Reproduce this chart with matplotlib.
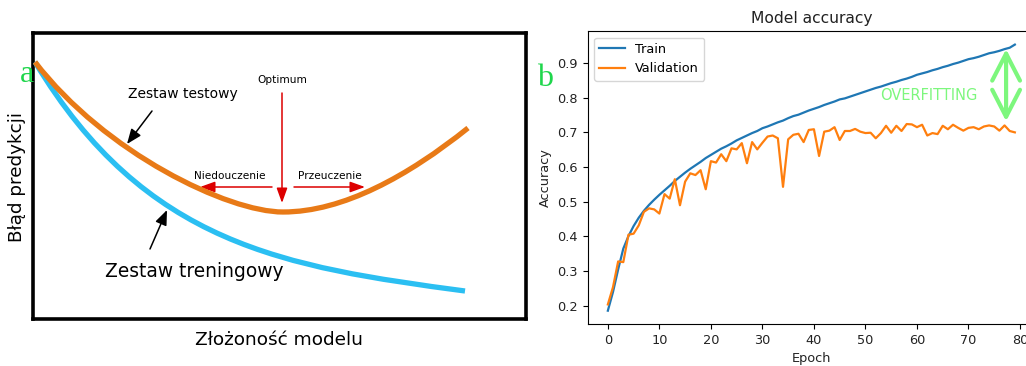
import numpy as np
import matplotlib
matplotlib.use("Agg")
import matplotlib.pyplot as plt
from matplotlib.path import Path
from matplotlib.patches import PathPatch

# ---------------------------------------------------------------- data
# Panel (a): schematic error curves as cubic Bezier control points
# (x = model complexity, y = prediction error, arbitrary units)
train_err_ctrl = [(2, 257), (112, 74), (252, 52), (432, 28)]
test_err_ctrl_left = [(2, 257), (72, 166), (195, 107), (250, 107)]
test_err_ctrl_right = [(250, 107), (310, 107), (375, 143), (435, 191)]

# Panel (b): training history
epochs = list(range(80))
train_acc = [
    0.186, 0.240, 0.305, 0.365, 0.401, 0.430, 0.454, 0.474, 0.491, 0.506,
    0.520, 0.533, 0.546, 0.560, 0.572, 0.584, 0.595, 0.605, 0.615, 0.626,
    0.635, 0.644, 0.653, 0.660, 0.668, 0.677, 0.684, 0.691, 0.698, 0.704,
    0.712, 0.717, 0.723, 0.729, 0.734, 0.741, 0.747, 0.751, 0.757, 0.763,
    0.768, 0.773, 0.779, 0.784, 0.789, 0.795, 0.798, 0.803, 0.808, 0.813,
    0.818, 0.823, 0.828, 0.832, 0.837, 0.842, 0.846, 0.851, 0.855, 0.860,
    0.866, 0.870, 0.874, 0.879, 0.883, 0.888, 0.892, 0.897, 0.901, 0.906,
    0.911, 0.914, 0.918, 0.923, 0.928, 0.931, 0.935, 0.940, 0.944, 0.953,
]
val_acc = [
    0.204, 0.254, 0.328, 0.326, 0.405, 0.408, 0.432, 0.471, 0.481, 0.478,
    0.466, 0.522, 0.509, 0.565, 0.490, 0.558, 0.582, 0.577, 0.591, 0.536,
    0.617, 0.613, 0.637, 0.617, 0.654, 0.651, 0.669, 0.611, 0.672, 0.651,
    0.670, 0.688, 0.691, 0.683, 0.543, 0.680, 0.693, 0.696, 0.672, 0.707,
    0.709, 0.632, 0.702, 0.705, 0.715, 0.678, 0.704, 0.704, 0.710, 0.702,
    0.698, 0.699, 0.683, 0.698, 0.719, 0.699, 0.719, 0.704, 0.724, 0.723,
    0.715, 0.722, 0.691, 0.698, 0.695, 0.719, 0.709, 0.722, 0.713, 0.705,
    0.713, 0.715, 0.709, 0.717, 0.720, 0.717, 0.705, 0.720, 0.704, 0.700,
]
series_labels = ["Train", "Validation"]

# ---------------------------------------------------------------- figure
W, H = 1026, 366
fig = plt.figure(figsize=(W / 100, H / 100), dpi=100)
plt.rcParams["font.family"] = ["DejaVu Sans"]


def fx(px):
    return px / W


def fy(py):
    return (H - py) / H


# ---------------------------------------------------------------- panel a
ax1 = fig.add_axes([fx(33), fy(319), 493 / W, 286 / H])
ax1.set_xlim(0, 493)
ax1.set_ylim(0, 286)
ax1.set_xticks([])
ax1.set_yticks([])
for sp in ax1.spines.values():
    sp.set_linewidth(2.6)
    sp.set_color("black")

C = Path.CURVE4
train_path = Path(train_err_ctrl, [Path.MOVETO, C, C, C])
test_path = Path(test_err_ctrl_left + test_err_ctrl_right[1:],
                 [Path.MOVETO, C, C, C, C, C, C])
ax1.add_patch(PathPatch(train_path, fill=False, edgecolor="#2bbff2",
                        lw=3.8, capstyle="butt", zorder=3))
ax1.add_patch(PathPatch(test_path, fill=False, edgecolor="#e87a17",
                        lw=3.8, capstyle="butt", zorder=4))

red = "#dd0000"
arrow_red = dict(arrowstyle="-|>,head_length=0.5,head_width=0.18",
                 color=red, lw=1.1, mutation_scale=18,
                 shrinkA=0, shrinkB=0)
arrow_blk = dict(arrowstyle="-|>,head_length=0.5,head_width=0.2",
                 color="black", lw=1.1, mutation_scale=18,
                 shrinkA=0, shrinkB=0)

ax1.annotate("", xy=(249, 116), xytext=(249, 226), arrowprops=arrow_red)
ax1.annotate("", xy=(167, 132), xytext=(239, 132), arrowprops=arrow_red)
ax1.annotate("", xy=(332, 132), xytext=(261, 132), arrowprops=arrow_red)
ax1.annotate("", xy=(94, 175), xytext=(119, 208), arrowprops=arrow_blk)
ax1.annotate("", xy=(134, 109), xytext=(117, 70), arrowprops=arrow_blk)

ax1.text(249, 236, "Optimum", ha="center", va="baseline", fontsize=7.6)
ax1.text(197, 140, "Niedouczenie", ha="center", va="baseline", fontsize=7.6)
ax1.text(297, 140, "Przeuczenie", ha="center", va="baseline", fontsize=7.6)
ax1.text(150, 221, "Zestaw testowy", ha="center", va="baseline", fontsize=10)
ax1.text(72, 42, "Zestaw treningowy", ha="left", va="baseline", fontsize=13.4)

fig.text(fx(279), fy(345), "Złożoność modelu", ha="center", va="baseline",
         fontsize=13.3)
fig.text(fx(17), fy(177), "Błąd predykcji", ha="center", va="center",
         rotation=90, fontsize=13.2)

# ---------------------------------------------------------------- panel b
ax2 = fig.add_axes([fx(587.5), fy(324), 447.7 / W, 292.7 / H])
ax2.plot(epochs, train_acc, color="#1f77b4", lw=1.6, label=series_labels[0])
ax2.plot(epochs, val_acc, color="#ff7f0e", lw=1.6, label=series_labels[1])
ax2.set_title("Model accuracy", fontsize=11.2, color="#222222")
ax2.set_xlabel("Epoch", fontsize=9.3, color="#222222")
ax2.set_ylabel("Accuracy", fontsize=9.3, color="#222222")
ax2.tick_params(labelsize=9.3, labelcolor="#222222")
ax2.legend(loc="upper left", fontsize=9.3)

green_light = "#7df77d"
ax2.text(62.3, 0.794, "OVERFITTING", ha="center", va="baseline",
         fontsize=10.5, color=green_light)
ax2.annotate("", xy=(77.3, train_acc[77]), xytext=(77.3, val_acc[77]),
             arrowprops=dict(arrowstyle="<->,head_length=0.97,head_width=0.5",
                             color=green_light, lw=3.0, mutation_scale=20,
                             shrinkA=3, shrinkB=0))

# panel letters
green = "#1fd64c"
fig.text(fx(20), fy(82), "a", ha="left", va="baseline", fontsize=23,
         family="Liberation Serif", color=green)
fig.text(fx(537), fy(86), "b", ha="left", va="baseline", fontsize=23,
         family="Liberation Serif", color=green)

fig.savefig("out.png", dpi=100)
